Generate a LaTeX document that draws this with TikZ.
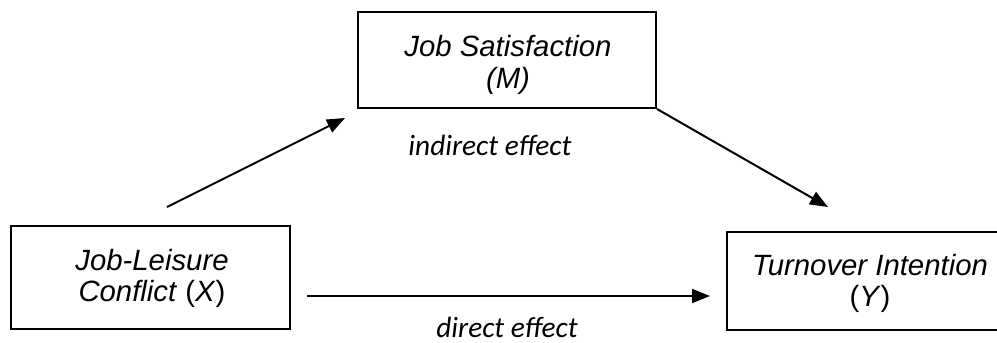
\documentclass[tikz,border=0pt]{standalone}
\usepackage{fontspec}
\setmainfont{Liberation Sans}
\newfontfamily\calib{Carlito}
\usetikzlibrary{arrows.meta}
\tikzset{
  boxshape/.style={draw=black, line width=1.5pt, rectangle, inner sep=0pt},
  boxtext/.style={align=center, inner sep=0pt, font=\fontsize{22pt}{23.6pt}\selectfont\itshape},
  efflabel/.style={anchor=base, inner sep=0pt, font=\calib\fontsize{22pt}{24pt}\selectfont\itshape},
  effarrow/.style={line width=1.5pt, -{Triangle[length=13.5pt, width=10.5pt]}}
}
\begin{document}
\begin{tikzpicture}[x=0.75pt, y=-0.75pt]
\useasboundingbox (0,0) rectangle (997,343);
% boxes
\node[boxshape, minimum width=223.5pt, minimum height=72pt] (m) at (507,60) {};
\node[boxshape, minimum width=209.25pt, minimum height=77.25pt] (x) at (150.5,277.5) {};
\node[boxshape, minimum width=210pt, minimum height=73.5pt] (y) at (867,281) {};
% box texts
\node[boxtext] (mt) at (508,65) {Job Satisfaction\\(M)};
\node[boxtext] (xt) at (152,278.5) {Job-Leisure\\Conflict \textup{(}X\textup{)}};
\node[boxtext] (yt) at (870,283.5) {Turnover Intention\\\textup{(}Y\textup{)}};
% arrow end points
\coordinate (a1s) at (167,207);
\coordinate (a1e) at (345,118);
\coordinate (a2e) at (828,207);
\coordinate (a3s) at (307,296);
\coordinate (a3e) at (710,296);
% arrows
\draw[effarrow] (a1s) -- (a1e);
\draw[effarrow] (m.south east) -- (a2e);
\draw[effarrow] (a3s) -- (a3e);
% labels
\node[efflabel] (ind) at (490,155) {indirect effect};
\node[efflabel] (dir) at (507,337) {direct effect};
\end{tikzpicture}
\end{document}
